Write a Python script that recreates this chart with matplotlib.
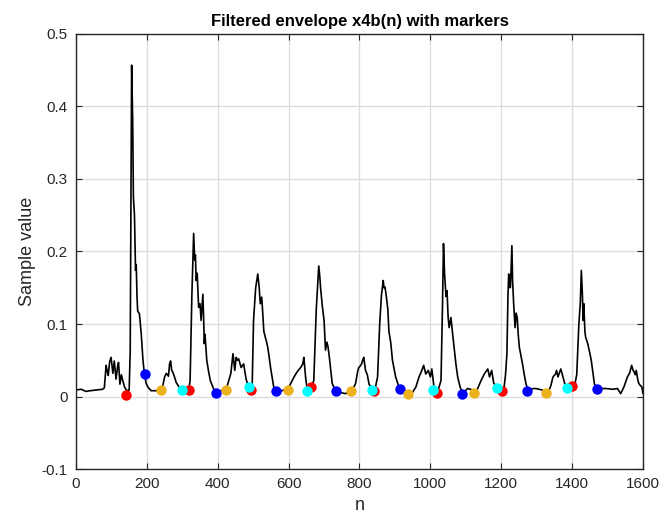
import numpy as np
import matplotlib
matplotlib.use('Agg')
import matplotlib.pyplot as plt

plt.rcParams['font.family'] = ['Liberation Sans', 'DejaVu Sans']

# envolvente filtrada
n_env = [0, 15, 28, 40, 57, 75, 80, 85, 88, 91, 95, 99, 104, 108, 113, 117, 120, 124, 128, 132, 137, 142, 146, 150, 153,
         157, 160, 162, 165, 167, 168, 170, 172, 174, 179, 184, 189, 193, 198, 203, 212, 226, 240, 245, 250, 255, 261, 264, 267,
         270, 273, 278, 283, 290, 297, 305, 312, 318, 322, 327, 332, 335, 337, 339, 342, 346, 350, 353, 355, 358, 360, 362,
         364, 366, 369, 374, 379, 388, 395, 410, 424, 431, 437, 440, 443, 446, 448, 452, 455, 459, 466, 473, 480, 487, 494,
         497, 501, 507, 513, 517, 520, 524, 527, 530, 534, 537, 541, 545, 549, 558, 563, 580, 596, 603, 610, 620, 627, 634,
         640, 643, 648, 653, 660, 664, 671, 678, 685, 688, 690, 695, 700, 704, 708, 711, 715, 723, 730, 737, 750, 761, 770,
         779, 789, 795, 798, 802, 806, 809, 812, 817, 822, 827, 833, 838, 843, 851, 857, 862, 867, 869, 872, 876, 880, 883,
         888, 893, 902, 910, 916, 930, 942, 950, 959, 968, 975, 981, 987, 994, 1000, 1004, 1011, 1020, 1030, 1034, 1037,
         1040, 1044, 1047, 1050, 1053, 1058, 1062, 1067, 1072, 1077, 1084, 1091, 1105, 1120, 1129, 1143, 1152, 1162, 1167,
         1173, 1179, 1185, 1190, 1200, 1207, 1212, 1216, 1219, 1221, 1224, 1226, 1230, 1232, 1235, 1239, 1242, 1245, 1248,
         1251, 1256, 1260, 1265, 1270, 1277, 1290, 1298, 1315, 1332, 1340, 1346, 1353, 1356, 1360, 1365, 1368, 1372, 1379,
         1385, 1390, 1400, 1407, 1413, 1419, 1423, 1426, 1429, 1431, 1433, 1436, 1438, 1444, 1449, 1454, 1463, 1470, 1476,
         1496, 1515, 1528, 1537, 1546, 1556, 1562, 1568, 1572, 1575, 1578, 1581, 1585, 1588, 1593, 1597, 1600]
x4b = [0.009, 0.010, 0.007, 0.008, 0.009, 0.010, 0.012, 0.043, 0.035, 0.029, 0.048, 0.054, 0.032, 0.049, 0.024, 0.040,
       0.047, 0.017, 0.030, 0.022, 0.013, 0.009, 0.008, 0.009, 0.063, 0.457, 0.380, 0.275, 0.250, 0.201, 0.174, 0.182,
       0.140, 0.118, 0.114, 0.087, 0.050, 0.031, 0.018, 0.013, 0.008, 0.008, 0.010, 0.015, 0.027, 0.032, 0.028, 0.045,
       0.049, 0.036, 0.034, 0.027, 0.019, 0.014, 0.010, 0.012, 0.009, 0.009, 0.022, 0.140, 0.225, 0.188, 0.195, 0.160,
       0.170, 0.123, 0.128, 0.105, 0.119, 0.141, 0.110, 0.073, 0.086, 0.072, 0.050, 0.035, 0.022, 0.011, 0.006, 0.008,
       0.010, 0.022, 0.032, 0.045, 0.059, 0.045, 0.036, 0.054, 0.050, 0.052, 0.040, 0.045, 0.024, 0.013, 0.010, 0.011,
       0.105, 0.150, 0.169, 0.150, 0.128, 0.137, 0.115, 0.090, 0.082, 0.077, 0.068, 0.055, 0.040, 0.013, 0.007, 0.008,
       0.010, 0.015, 0.022, 0.031, 0.036, 0.040, 0.045, 0.054, 0.026, 0.008, 0.010, 0.013, 0.022, 0.120, 0.180, 0.165,
       0.151, 0.125, 0.105, 0.064, 0.075, 0.069, 0.054, 0.018, 0.010, 0.007, 0.005, 0.004, 0.006, 0.008, 0.018, 0.035,
       0.040, 0.042, 0.045, 0.050, 0.054, 0.036, 0.030, 0.017, 0.012, 0.009, 0.008, 0.027, 0.100, 0.140, 0.160, 0.150,
       0.151, 0.137, 0.120, 0.090, 0.075, 0.050, 0.027, 0.015, 0.010, 0.008, 0.004, 0.006, 0.013, 0.027, 0.035, 0.043,
       0.031, 0.036, 0.027, 0.038, 0.010, 0.006, 0.022, 0.120, 0.211, 0.170, 0.138, 0.146, 0.110, 0.095, 0.109, 0.090,
       0.068, 0.045, 0.027, 0.013, 0.004, 0.011, 0.009, 0.006, 0.022, 0.031, 0.038, 0.027, 0.036, 0.018, 0.015, 0.012,
       0.010, 0.008, 0.030, 0.059, 0.140, 0.169, 0.150, 0.151, 0.208, 0.160, 0.128, 0.095, 0.115, 0.109, 0.085, 0.068,
       0.055, 0.045, 0.030, 0.017, 0.008, 0.011, 0.011, 0.009, 0.005, 0.015, 0.027, 0.031, 0.036, 0.027, 0.034, 0.038,
       0.031, 0.018, 0.013, 0.011, 0.012, 0.015, 0.030, 0.100, 0.128, 0.174, 0.140, 0.105, 0.128, 0.090, 0.082, 0.073,
       0.062, 0.050, 0.017, 0.012, 0.011, 0.011, 0.010, 0.011, 0.004, 0.013, 0.027, 0.032, 0.043, 0.036, 0.034, 0.030,
       0.036, 0.024, 0.018, 0.015, 0.013, 0.004]

# marcadores (rojo, azul, naranja, cian)
n_red = [142, 319, 494, 664, 841, 1020, 1202, 1400]
v_red = [0.002, 0.009, 0.009, 0.013, 0.007, 0.005, 0.007, 0.015]
n_blue = [194, 395, 565, 735, 913, 1088, 1273, 1469]
v_blue = [0.031, 0.005, 0.007, 0.007, 0.010, 0.004, 0.007, 0.011]
n_orange = [240, 424, 599, 777, 938, 1124, 1326]
v_orange = [0.009, 0.009, 0.009, 0.007, 0.004, 0.005, 0.005]
n_cyan = [299, 487, 653, 836, 1008, 1187, 1385]
v_cyan = [0.009, 0.013, 0.007, 0.009, 0.009, 0.012, 0.012]

fig = plt.figure(figsize=(6.62, 5.22), dpi=100)
ax = fig.add_axes([0.1148, 0.1015, 0.8565, 0.8334])

ax.plot(n_env, x4b, color='k', lw=1.2, zorder=2)
ms = 7.5
ax.plot(n_red, v_red, 'o', color='#FF0000', ms=ms, mec='none', zorder=3)
ax.plot(n_blue, v_blue, 'o', color='#0000FF', ms=ms, mec='none', zorder=3)
ax.plot(n_orange, v_orange, 'o', color='#EDB120', ms=ms, mec='none', zorder=3)
ax.plot(n_cyan, v_cyan, 'o', color='#00FFFF', ms=ms, mec='none', zorder=3)

ax.set_xlim(0, 1600)
ax.set_ylim(-0.1, 0.5)
ax.set_xticks(np.arange(0, 1601, 200))
ax.set_yticks([-0.1, 0, 0.1, 0.2, 0.3, 0.4, 0.5])
ax.set_yticklabels(['-0.1', '0', '0.1', '0.2', '0.3', '0.4', '0.5'])
ax.grid(True, color='#DCDCDC', lw=1)
ax.set_axisbelow(True)
ax.tick_params(direction='in', top=True, right=True, length=4, labelsize=11, colors='#262626', pad=6)
for s in ax.spines.values():
    s.set_color('#262626')
    s.set_linewidth(1)

ax.set_title('Filtered envelope x4b(n) with markers', fontsize=12, fontweight='bold', pad=6)
ax.set_xlabel('n', fontsize=13, color='#262626', labelpad=4)
ax.set_ylabel('Sample value', fontsize=13, color='#262626', labelpad=4)

fig.savefig('out.png', dpi=100)
